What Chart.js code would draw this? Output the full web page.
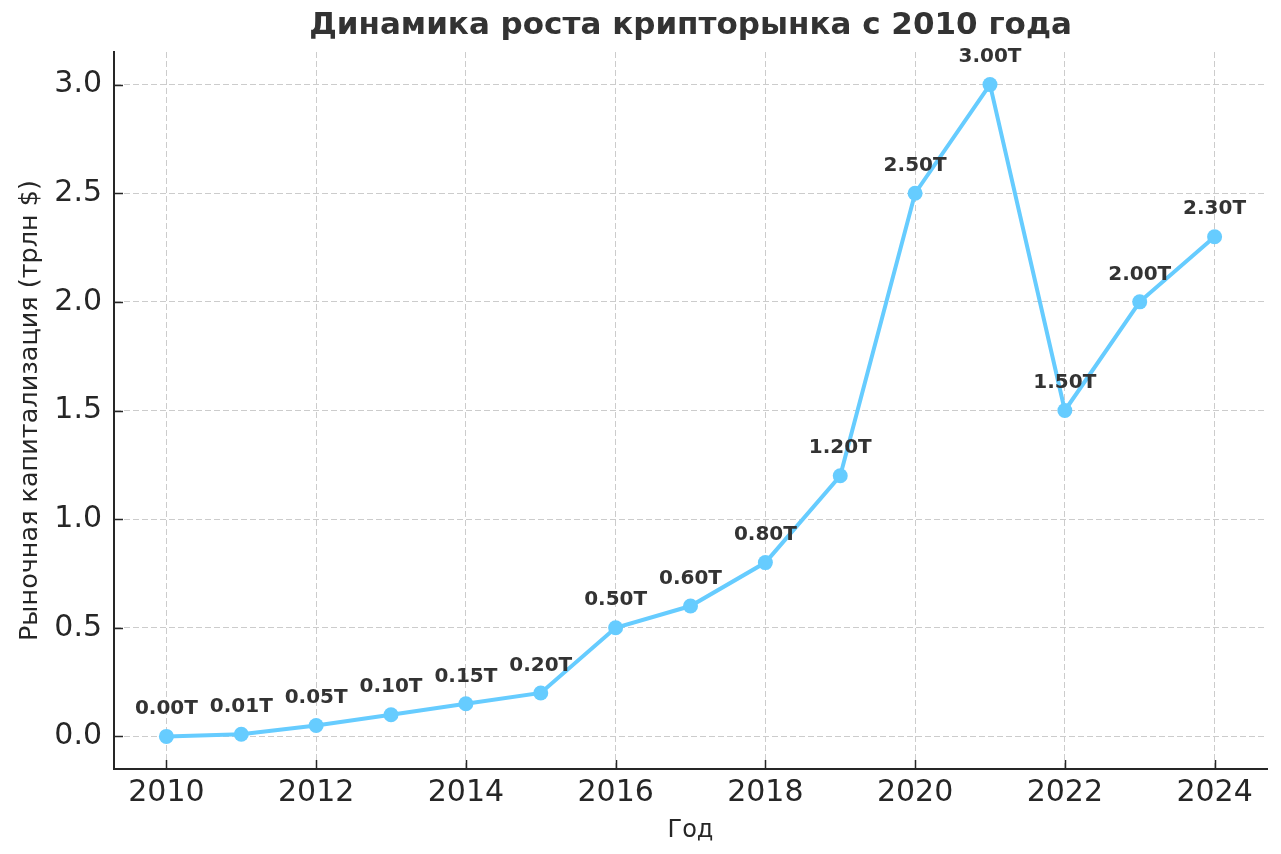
<!DOCTYPE html>
<html>
<head>
<meta charset="utf-8">
<script src="https://cdn.jsdelivr.net/npm/chart.js@4/dist/chart.umd.min.js"></script>
<style>
html,body{margin:0;padding:0;background:#fff;}
#wrap{width:1281px;height:854px;position:relative;}
</style>
</head>
<body>
<div id="wrap"><canvas id="c" width="1281" height="854"></canvas></div>
<script>
const years = [2010,2011,2012,2013,2014,2015,2016,2017,2018,2019,2020,2021,2022,2023,2024];
const marketCap = [0.00,0.01,0.05,0.10,0.15,0.20,0.50,0.60,0.80,1.20,2.50,3.00,1.50,2.00,2.30];
const xTicks = [2010,2012,2014,2016,2018,2020,2022,2024];
const yTicks = [0.0,0.5,1.0,1.5,2.0,2.5,3.0];
const titleText = 'Динамика роста крипторынка с 2010 года';
const xTitle = 'Год';
const yTitle = 'Рыночная капитализация (трлн $)';

const FONT = "'DejaVu Sans', sans-serif";
const TEXT = '#262626';

const inwardTicks = {
  id: 'inwardTicks',
  afterDraw(chart) {
    const ctx = chart.ctx, a = chart.chartArea;
    const xs = chart.scales.x, ys = chart.scales.y;
    ctx.save();
    ctx.strokeStyle = TEXT; ctx.lineWidth = 1.5;
    ctx.beginPath();
    xs.ticks.forEach(t => { const px = Math.round(xs.getPixelForValue(t.value)) + 0.5; ctx.moveTo(px, a.bottom); ctx.lineTo(px, a.bottom - 9); });
    ys.ticks.forEach(t => { const py = Math.round(ys.getPixelForValue(t.value)) + 0.5; ctx.moveTo(a.left, py); ctx.lineTo(a.left + 9, py); });
    ctx.stroke();
    ctx.restore();
  }
};

const axesTitle = {
  id: 'axesTitle',
  afterDraw(chart) {
    const ctx = chart.ctx, a = chart.chartArea;
    ctx.save();
    ctx.font = "bold 31px " + FONT;
    ctx.fillStyle = '#333333';
    ctx.textAlign = 'center';
    ctx.textBaseline = 'middle';
    ctx.fillText(titleText, (a.left + a.right) / 2, 26);
    ctx.restore();
  }
};

const pointLabels = {
  id: 'pointLabels',
  afterDatasetsDraw(chart) {
    const ctx = chart.ctx;
    const meta = chart.getDatasetMeta(0);
    ctx.save();
    ctx.font = "bold 20px " + FONT;
    ctx.fillStyle = '#333333';
    ctx.textAlign = 'center';
    ctx.textBaseline = 'middle';
    meta.data.forEach((pt, i) => {
      ctx.fillText(marketCap[i].toFixed(2) + 'T', pt.x, pt.y - 27.5);
    });
    ctx.restore();
  }
};

new Chart(document.getElementById('c'), {
  type: 'line',
  data: {
    datasets: [{
      data: years.map((y, i) => ({x: y, y: marketCap[i]})),
      borderColor: '#66ccff',
      backgroundColor: '#66ccff',
      borderWidth: 4,
      pointRadius: 7.5,
      pointHoverRadius: 7.5,
      pointBackgroundColor: '#66ccff',
      pointBorderWidth: 0,
      tension: 0,
      clip: false
    }]
  },
  options: {
    responsive: false,
    animation: false,
    devicePixelRatio: 1,
    layout: { padding: { left: 0, right: 14, top: 52, bottom: 0 } },
    plugins: {
      legend: { display: false },
      tooltip: { enabled: false },
      title: { display: false }
    },
    scales: {
      x: {
        type: 'linear', min: 2009.3, max: 2024.7,
        afterBuildTicks: s => { s.ticks = xTicks.map(v => ({value: v})); },
        afterFit: s => { s.height = 85; },
        grid: { color: '#cccccc', lineWidth: 1, drawTicks: false, tickLength: 0 },
        border: { display: true, color: TEXT, width: 2, dash: [6, 3] },
        ticks: { color: TEXT, font: { family: FONT, size: 30 }, padding: 6, maxRotation: 0, autoSkip: false, callback: v => String(v) },
        title: { display: true, text: xTitle, color: TEXT, font: { family: FONT, size: 24 }, padding: { top: 0, bottom: 9 } }
      },
      y: {
        type: 'linear', min: -0.15, max: 3.15,
        afterBuildTicks: s => { s.ticks = yTicks.map(v => ({value: v})); },
        afterFit: s => { s.width = 114; },
        grid: { color: '#cccccc', lineWidth: 1, drawTicks: false, tickLength: 0 },
        border: { display: true, color: TEXT, width: 2, dash: [6, 3] },
        ticks: { color: TEXT, font: { family: FONT, size: 30 }, padding: 12, autoSkip: false, callback: v => Number(v).toFixed(1) },
        title: { display: true, text: yTitle, color: TEXT, font: { family: FONT, size: 25.5 }, padding: { top: 15, bottom: 0 } }
      }
    }
  },
  plugins: [inwardTicks, pointLabels, axesTitle]
});
</script>
</body>
</html>
